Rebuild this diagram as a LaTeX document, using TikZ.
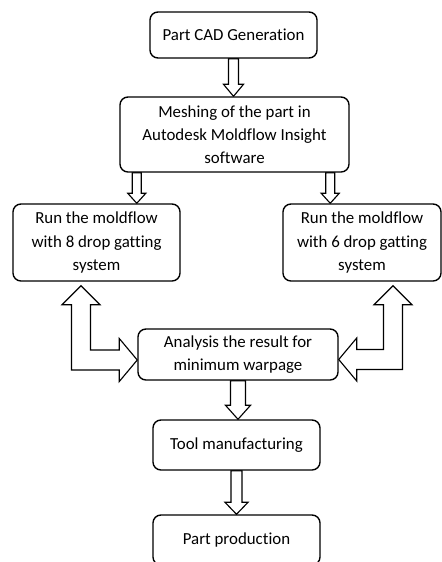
\documentclass[tikz,border=0pt]{standalone}
\usepackage{fontspec}
\setmainfont{Carlito}[Ligatures=CommonOff]
\usetikzlibrary{calc,backgrounds}

% hollow block arrow pointing down: top point, tip, half shaft, half head, head length
\newcommand{\blockdown}[5]{%
  \draw[blockarrow] ($(#1)+(-#3,0)$) -- ($(#2)+(-#3,-#5)$) -- ($(#2)+(-#4,-#5)$) -- (#2)
    -- ($(#2)+(#4,-#5)$) -- ($(#2)+(#3,-#5)$) -- ($(#1)+(#3,0)$) -- cycle;}
% bent double block arrow: up tip, side tip, side (1 left, -1 right)
\newcommand{\blockbend}[3]{%
  \draw[blockarrow] (#1) -- ($(#1)+({#3*19},19)$) -- ($(#1)+({#3*9.5},19)$)
    -- ($(#1 |- #2)+({#3*9.5},-10)$) -- ($(#2)+({(-1)*(#3)*18},-10)$) -- ($(#2)+({(-1)*(#3)*18},-21.5)$)
    -- (#2) -- ($(#2)+({(-1)*(#3)*18},21.5)$) -- ($(#2)+({(-1)*(#3)*18},10)$)
    -- ($(#1 |- #2)+({(-1)*(#3)*9.5},10)$) -- ($(#1)+({(-1)*(#3)*9.5},19)$) -- ($(#1)+({(-1)*(#3)*19},19)$) -- cycle;}

\begin{document}
\begin{tikzpicture}[x=0.025cm, y=-0.025cm,
        every node/.style={font=\fontsize{12pt}{16.4pt}\selectfont},
        box/.style={draw, fill=white, rounded corners=0.2cm, line width=1pt, align=center, inner sep=2pt},
        blockarrow/.style={draw, fill=white, line width=0.8pt, line join=miter}]
        \useasboundingbox (0,0) rectangle (442,562);

        \node[box, minimum width=4.175cm, minimum height=1.15cm] (cad) at (233.5,35) {Part CAD Generation};
        \node[box, minimum width=5.725cm, minimum height=1.875cm] (mesh) at (234.5,134.5) {Meshing of the part in\\Autodesk Moldflow Insight\\software};
        \node[box, minimum width=4.175cm, minimum height=1.925cm] (run8) at (96.5,242.5) {Run the moldflow\\with 8 drop gatting\\system};
        \node[box, minimum width=3.95cm, minimum height=1.925cm] (run6) at (362,242.5) {Run the moldflow\\with 6 drop gatting\\system};
        \node[box, minimum width=5cm, minimum height=1.275cm] (ana) at (238,354.5) {Analysis the result for\\minimum warpage};
        \node[box, minimum width=4.175cm, minimum height=1.25cm] (tool) at (236.5,445) {Tool manufacturing};
        \node[box, minimum width=4.175cm, minimum height=1.25cm] (prod) at (236.5,540) {Part production};

        \coordinate (m8) at ($(mesh.south west)+(17.5,0)$);
        \coordinate (m6) at ($(mesh.south east)+(-19.5,0)$);
        \coordinate (u8) at ($(run8.south)+(-15.5,4)$);
        \coordinate (s8) at ($(ana.west)+(0,5.5)$);
        \coordinate (u6) at ($(run6.south)+(31,4)$);
        \coordinate (s6) at ($(ana.east)+(0,5)$);

        \begin{scope}[on background layer]
        \blockdown{cad.south}{cad.south |- mesh.north}{5}{10}{12}
        \blockdown{m8}{m8 |- run8.north}{4.5}{9}{10}
        \blockdown{m6}{m6 |- run6.north}{4.5}{9}{10}
        \blockdown{ana.south}{ana.south |- tool.north}{7.5}{12.5}{14}
        \blockdown{tool.south}{tool.south |- prod.north}{5.5}{11.5}{12}
        \blockbend{u8}{s8}{1}
        \blockbend{u6}{s6}{-1}
        \end{scope}
      \end{tikzpicture}
\end{document}
